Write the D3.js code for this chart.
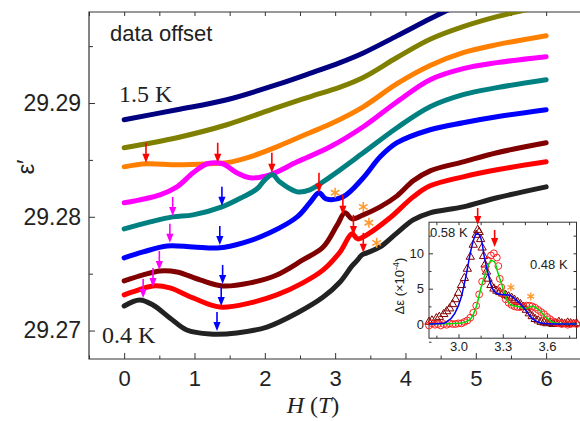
<!DOCTYPE html>
<html>
<head>
<meta charset="utf-8">
<script src="https://cdn.jsdelivr.net/npm/d3@7"></script>
<style>
body { margin: 0; background: #fff; }
text { font-family: Arial, "Liberation Sans", sans-serif; fill: #222; }
.serif { font-family: "Times New Roman", "Liberation Serif", serif; }
</style>
</head>
<body>
<svg id="chart" width="580" height="421"></svg>
<script>
// ---- traces, top (1.5 K) to bottom (0.4 K): field H (T) and eps' ----
var hNavy = [0, 0.75, 1.46, 2.17, 2.64, 3.07, 3.40, 3.88, 4.35, 4.63, 4.92, 5.20];
var eNavy = [29.28853, 29.28941, 29.29029, 29.29161, 29.29260, 29.29355, 29.29440, 29.29590, 29.29740, 29.29825, 29.29905, 29.2998];

var hOlive = [0, 0.75, 1.46, 2.17, 2.64, 3.07, 3.40, 3.88, 4.35, 4.82, 5.30, 5.73, 6.00];
var eOlive = [29.28607, 29.28695, 29.28809, 29.28959, 29.29055, 29.29140, 29.29225, 29.29400, 29.29560, 29.29671, 29.29759, 29.29821, 29.29860];

var hOrange = [0, 0.32, 0.75, 1.22, 1.46, 1.79, 2.17, 2.64, 2.93, 3.40, 3.88, 4.35, 4.82, 5.30, 6.00];
var eOrange = [29.28439, 29.28466, 29.28457, 29.28466, 29.28475, 29.28527, 29.28615, 29.28739, 29.28815, 29.28967, 29.29170, 29.29330, 29.29443, 29.29513, 29.29592];

var hMagenta = [0, 0.51, 0.75, 0.98, 1.18, 1.40, 1.60, 1.79, 2.07, 2.46, 2.93, 3.40, 3.88, 4.35, 4.82, 5.30, 6.00];
var eMagenta = [29.28123, 29.28193, 29.28263, 29.28387, 29.28466, 29.28466, 29.28387, 29.28343, 29.28369, 29.28483, 29.28615, 29.28791, 29.29011, 29.29205, 29.29302, 29.29355, 29.29407];

var hTeal = [0, 0.37, 0.69, 0.98, 1.39, 1.69, 1.89, 2.00, 2.11, 2.21, 2.46, 2.64, 2.93, 3.40, 3.88, 4.35, 4.82, 5.30, 6.00];
var eTeal = [29.27894, 29.27955, 29.27999, 29.28017, 29.28087, 29.28175, 29.28246, 29.28325, 29.28369, 29.28307, 29.28219, 29.28237, 29.28351, 29.28563, 29.28783, 29.28967, 29.29073, 29.29135, 29.29205];

var hBlue = [0, 0.27, 0.61, 0.98, 1.36, 1.69, 2.07, 2.46, 2.64, 2.77, 2.87, 3.11, 3.40, 3.64, 3.88, 4.35, 4.82, 5.30, 6.00];
var eBlue = [29.27639, 29.27691, 29.27744, 29.27735, 29.27727, 29.27771, 29.27859, 29.27999, 29.28123, 29.28211, 29.28158, 29.28175, 29.28343, 29.28527, 29.28651, 29.28765, 29.28827, 29.28879, 29.28941];

var hDarkRed = [0, 0.27, 0.51, 0.75, 1.08, 1.40, 1.79, 2.17, 2.54, 2.83, 3.03, 3.14, 3.24, 3.40, 3.64, 3.88, 4.11, 4.35, 4.82, 5.30, 6.00];
var eDarkRed = [29.27436, 29.27489, 29.27524, 29.27515, 29.27445, 29.27392, 29.27419, 29.27489, 29.27621, 29.27735, 29.27929, 29.28035, 29.27982, 29.28017, 29.28087, 29.28184, 29.28316, 29.28404, 29.28483, 29.28563, 29.28651];

var hRed = [0, 0.12, 0.41, 0.65, 0.98, 1.36, 1.79, 2.17, 2.54, 2.83, 3.07, 3.24, 3.32, 3.45, 3.78, 4.11, 4.35, 4.82, 5.30, 6.00];
var eRed = [29.27313, 29.27339, 29.27392, 29.27375, 29.27287, 29.27207, 29.27243, 29.27313, 29.27419, 29.27533, 29.27691, 29.27850, 29.27806, 29.27841, 29.27991, 29.28175, 29.28272, 29.28351, 29.28413, 29.28483];

var hBlack = [0, 0.22, 0.41, 0.65, 0.89, 1.22, 1.60, 2.03, 2.46, 2.83, 3.07, 3.24, 3.32, 3.38, 3.45, 3.64, 3.88, 4.11, 4.35, 4.82, 5.30, 6.00];
var eBlack = [29.27216, 29.27269, 29.27225, 29.27111, 29.27005, 29.26970, 29.26979, 29.27031, 29.27155, 29.27295, 29.27427, 29.27568, 29.27621, 29.27665, 29.27683, 29.27735, 29.27859, 29.27973, 29.28035, 29.28087, 29.28167, 29.28263];

// arrow tips [H, eps'] and asterisks
var redArrows = [[0.31, 29.28475], [1.33, 29.28475], [2.10, 29.28387], [2.77, 29.28211], [3.11, 29.28017], [3.26, 29.27841], [3.40, 29.27683]];
var magentaArrows = [[0.69, 29.28008], [0.65, 29.27771], [0.50, 29.27533], [0.41, 29.27383], [0.27, 29.27287]];
var blueArrows = [[1.39, 29.28096], [1.36, 29.27753], [1.40, 29.27410], [1.38, 29.27216], [1.32, 29.26996]];
var stars = [[3.00, 29.28211], [3.40, 29.28087], [3.48, 29.27947], [3.59, 29.27771]];

var xTicks = [0, 1, 2, 3, 4, 5, 6];
var yTicks = [29.27, 29.28, 29.29];

// ---- inset: delta eps (x1e-4) vs H ----
var h58 = [2.80, 2.82, 2.85, 2.87, 2.90, 2.92, 2.94, 2.96, 2.98, 3.00, 3.02, 3.04, 3.06, 3.08, 3.10, 3.12, 3.13, 3.14, 3.15, 3.16, 3.17, 3.18, 3.19, 3.20, 3.22, 3.24, 3.26, 3.28, 3.30, 3.32, 3.34, 3.36, 3.38, 3.40, 3.42, 3.44, 3.46, 3.48, 3.50, 3.52, 3.54, 3.56, 3.58, 3.60, 3.62, 3.64, 3.66, 3.68, 3.70, 3.72, 3.74, 3.76, 3.78, 3.80];
var d58 = [0.3, 0.5, 0.8, 1.0, 1.4, 1.8, 2.2, 2.8, 3.5, 4.4, 5.5, 6.5, 7.8, 9.5, 11.2, 12.6, 13.3, 13.0, 12.0, 10.8, 9.6, 8.4, 7.4, 6.4, 5.5, 5.0, 4.7, 4.5, 4.3, 4.1, 3.9, 3.7, 3.4, 3.1, 2.8, 2.4, 2.0, 1.5, 1.1, 0.7, 0.5, 0.3, 0.2, 0.1, 0.2, 0.0, 0.1, 0.3, 0.1, 0.0, 0.2, 0.1, 0.0, 0.1];

var h48 = [2.80, 2.82, 2.84, 2.86, 2.88, 2.90, 2.92, 2.94, 2.96, 2.98, 3.00, 3.02, 3.04, 3.06, 3.08, 3.10, 3.12, 3.14, 3.16, 3.18, 3.20, 3.22, 3.24, 3.26, 3.27, 3.28, 3.29, 3.30, 3.32, 3.34, 3.36, 3.38, 3.40, 3.42, 3.44, 3.46, 3.48, 3.50, 3.52, 3.54, 3.56, 3.58, 3.60, 3.62, 3.64, 3.66, 3.68, 3.70, 3.72, 3.74, 3.76, 3.78, 3.80];
var d48 = [-0.2, 0.1, -0.1, 0.0, -0.2, 0.0, -0.1, 0.1, 0.0, 0.0, 0.1, 0.1, 0.3, 0.5, 0.9, 1.6, 2.6, 4.2, 6.0, 7.8, 9.0, 9.7, 10.0, 9.4, 8.2, 6.4, 5.2, 4.3, 3.5, 3.0, 2.7, 2.5, 2.4, 2.4, 2.5, 2.6, 2.6, 2.5, 2.3, 2.0, 1.7, 1.4, 1.0, 0.7, 0.4, 0.2, 0.1, 0.0, 0.1, -0.1, 0.0, 0.1, 0.0];

var hFit58 = [2.80, 2.90, 2.92, 2.975, 3.02, 3.05, 3.085, 3.115, 3.13, 3.155, 3.175, 3.20, 3.23, 3.275, 3.345, 3.38, 3.435, 3.50, 3.57, 3.65, 3.80];
var dFit58 = [0.0, 0.1, 0.3, 1.5, 3.9, 6.7, 10.5, 12.6, 12.8, 11.9, 9.5, 7.2, 5.0, 4.2, 4.1, 3.6, 2.5, 0.8, 0.1, 0.0, 0.0];

var hFit48 = [2.80, 3.005, 3.075, 3.12, 3.155, 3.19, 3.22, 3.245, 3.265, 3.29, 3.32, 3.355, 3.40, 3.455, 3.50, 3.545, 3.60, 3.66, 3.80];
var dFit48 = [0.0, 0.1, 0.6, 2.4, 5.3, 7.6, 9.0, 8.8, 7.4, 5.8, 3.9, 2.7, 2.5, 2.2, 2.5, 2.0, 0.8, 0.1, 0.0];

var insetArrows = [[3.13, 14.0], [3.245, 10.9]];
var insetStars = [[3.355, 5.2], [3.49, 3.9]];
var insetXTicks = [3.0, 3.3, 3.6];
var insetYTicks = [0, 5, 10];

var svg = d3.select("#chart");
var axisColor = "#333";

var x = d3.scaleLinear().domain([-0.5, 6.5]).range([89, 581.3]);
var y = d3.scaleLinear().domain([29.2675, 29.298]).range([359, 12]);

svg.append("defs").append("clipPath").attr("id", "plotclip")
    .append("rect").attr("x", 89).attr("y", 12).attr("width", 492).attr("height", 347);

function styleAxis(g) {
    g.select(".domain").remove();
    g.selectAll(".tick line").attr("stroke", axisColor);
    g.selectAll(".tick text").attr("fill", "#222");
}

// major and minor ticks, all pointing inward
svg.append("g").attr("transform", "translate(0,359)")
    .call(d3.axisBottom(x).tickValues(xTicks).tickSizeInner(-6).tickSizeOuter(0).tickPadding(11).tickFormat(d3.format("d")))
    .call(styleAxis).selectAll("text").style("font-size", "22px");
svg.append("g").attr("transform", "translate(0,359)")
    .call(d3.axisBottom(x).tickValues([-0.5, 0.5, 1.5, 2.5, 3.5, 4.5, 5.5, 6.5]).tickSizeInner(-3.5).tickSizeOuter(0).tickFormat(""))
    .call(styleAxis);
svg.append("g").attr("transform", "translate(0,12)")
    .call(d3.axisTop(x).tickValues(d3.range(-0.5, 6.51, 0.5)).tickSizeInner(-4).tickSizeOuter(0).tickFormat(""))
    .call(styleAxis);
svg.append("g").attr("transform", "translate(89,0)")
    .call(d3.axisLeft(y).tickValues(yTicks).tickSizeInner(-6).tickSizeOuter(0).tickPadding(8).tickFormat(d3.format(".2f")))
    .call(styleAxis).selectAll("text").style("font-size", "23px");
svg.append("g").attr("transform", "translate(89,0)")
    .call(d3.axisLeft(y).tickValues([29.275, 29.285, 29.295]).tickSizeInner(-4).tickSizeOuter(0).tickFormat(""))
    .call(styleAxis);

// frame
svg.append("path")
    .attr("d", "M581.3,12H89V359H581.3")
    .attr("fill", "none").attr("stroke", axisColor).attr("stroke-width", 1.2);

// traces
var traces = [
    [hNavy, eNavy, "#000080"],
    [hOlive, eOlive, "#808000"],
    [hOrange, eOrange, "#FF8000"],
    [hMagenta, eMagenta, "#FF00FF"],
    [hTeal, eTeal, "#008080"],
    [hBlue, eBlue, "#0000FF"],
    [hDarkRed, eDarkRed, "#800000"],
    [hRed, eRed, "#FF0000"],
    [hBlack, eBlack, "#222222"]
];
var line = d3.line()
    .x(function (d) { return x(d[0]); })
    .y(function (d) { return y(d[1]); })
    .curve(d3.curveCatmullRom.alpha(0.5));
var plot = svg.append("g").attr("clip-path", "url(#plotclip)");
traces.forEach(function (t) {
    var pts = t[0].map(function (h, i) { return [h, t[1][i]]; });
    plot.append("path").datum(pts)
        .attr("fill", "none")
        .attr("stroke", t[2])
        .attr("stroke-width", 5)
        .attr("stroke-linecap", "round")
        .attr("stroke-linejoin", "round")
        .attr("d", line);
});

function arrow(px, py, len, color) {
    svg.append("line")
        .attr("x1", px).attr("x2", px)
        .attr("y1", py - len).attr("y2", py - 7)
        .attr("stroke", color).attr("stroke-width", 1.6);
    svg.append("path")
        .attr("d", "M" + (px - 3.6) + "," + (py - 9) + "L" + (px + 3.6) + "," + (py - 9) + "L" + px + "," + py + "Z")
        .attr("fill", color);
}
redArrows.forEach(function (a) { arrow(x(a[0]), y(a[1]), 20, "#FF0000"); });
magentaArrows.forEach(function (a) { arrow(x(a[0]), y(a[1]), 19, "#FF00FF"); });
blueArrows.forEach(function (a) { arrow(x(a[0]), y(a[1]), 19, "#0000FF"); });

var star = d3.symbol().type(d3.symbolAsterisk).size(70);
stars.forEach(function (s) {
    svg.append("path").attr("d", star)
        .attr("transform", "translate(" + x(s[0]) + "," + y(s[1]) + ")")
        .attr("fill", "none").attr("stroke", "#FF9A33").attr("stroke-width", 1.6);
});

// labels
svg.append("text").attr("x", 110).attr("y", 41).style("font-size", "22px").text("data offset");
svg.append("text").attr("class", "serif").attr("x", 119).attr("y", 102).style("font-size", "24px").text("1.5 K");
svg.append("text").attr("class", "serif").attr("x", 102).attr("y", 343).style("font-size", "24px").text("0.4 K");
svg.append("text")
    .attr("transform", "translate(34,167) rotate(-90)")
    .attr("text-anchor", "middle").style("font-size", "24px").text("\u03b5\u2032");
var xl = svg.append("text").attr("class", "serif")
    .attr("x", 313).attr("y", 413).attr("text-anchor", "middle").style("font-size", "24px");
xl.append("tspan").style("font-style", "italic").text("H");
xl.append("tspan").text(" (");
xl.append("tspan").style("font-style", "italic").text("T");
xl.append("tspan").text(")");

// ---- inset ----
var xi = d3.scaleLinear().domain([2.8, 3.8]).range([429, 576.5]);
var yi = d3.scaleLinear().domain([-2, 14.4]).range([338.2, 222.2]);
var inset = svg.append("g");
inset.append("rect").attr("x", 429).attr("y", 222.2).attr("width", 147.5).attr("height", 116)
    .attr("fill", "#fff").attr("stroke", axisColor).attr("stroke-width", 1);

inset.append("g").attr("transform", "translate(0,338.2)")
    .call(d3.axisBottom(xi).tickValues(insetXTicks).tickSizeInner(-4).tickSizeOuter(0).tickPadding(4).tickFormat(d3.format(".1f")))
    .call(styleAxis).selectAll("text").style("font-size", "13px");
inset.append("g").attr("transform", "translate(0,338.2)")
    .call(d3.axisBottom(xi).tickValues([2.85, 3.15, 3.45, 3.75]).tickSizeInner(-2.5).tickSizeOuter(0).tickFormat(""))
    .call(styleAxis);
inset.append("g").attr("transform", "translate(0,222.2)")
    .call(d3.axisTop(xi).tickValues([2.85, 3.0, 3.15, 3.3, 3.45, 3.6, 3.75]).tickSizeInner(-3).tickSizeOuter(0).tickFormat(""))
    .call(styleAxis);
inset.append("g").attr("transform", "translate(429,0)")
    .call(d3.axisLeft(yi).tickValues(insetYTicks).tickSizeInner(-4).tickSizeOuter(0).tickPadding(5).tickFormat(d3.format("d")))
    .call(styleAxis).selectAll("text").style("font-size", "13px");
inset.append("g").attr("transform", "translate(429,0)")
    .call(d3.axisLeft(yi).tickValues([-2.5, 2.5, 7.5, 12.5]).tickSizeInner(-2.5).tickSizeOuter(0).tickFormat(""))
    .call(styleAxis);
inset.append("g").attr("transform", "translate(576.5,0)")
    .call(d3.axisRight(yi).tickValues([0, 2.5, 5, 7.5, 10, 12.5]).tickSizeInner(-3).tickSizeOuter(0).tickFormat(""))
    .call(styleAxis);

var tri = d3.symbol().type(d3.symbolTriangle).size(30);
h58.forEach(function (h, i) {
    inset.append("path").attr("d", tri)
        .attr("transform", "translate(" + xi(h) + "," + yi(d58[i]) + ")")
        .attr("fill", "none").attr("stroke", "#800000").attr("stroke-width", 1);
});
h48.forEach(function (h, i) {
    inset.append("circle").attr("cx", xi(h)).attr("cy", yi(d48[i])).attr("r", 3.4)
        .attr("fill", "none").attr("stroke", "#FF2020").attr("stroke-width", 1);
});
var iline = d3.line()
    .x(function (d) { return xi(d[0]); })
    .y(function (d) { return yi(d[1]); })
    .curve(d3.curveMonotoneX);
inset.append("path").datum(hFit48.map(function (h, i) { return [h, dFit48[i]]; }))
    .attr("fill", "none").attr("stroke", "#00DD00").attr("stroke-width", 1.5).attr("d", iline);
inset.append("path").datum(hFit58.map(function (h, i) { return [h, dFit58[i]]; }))
    .attr("fill", "none").attr("stroke", "#0000FF").attr("stroke-width", 1.5).attr("d", iline);

insetArrows.forEach(function (a) { arrow(xi(a[0]), yi(a[1]), 17, "#FF0000"); });
insetStars.forEach(function (s) {
    svg.append("path").attr("d", d3.symbol().type(d3.symbolAsterisk).size(45))
        .attr("transform", "translate(" + xi(s[0]) + "," + yi(s[1]) + ")")
        .attr("fill", "none").attr("stroke", "#FF9A33").attr("stroke-width", 1.4);
});

inset.append("text").attr("x", 430).attr("y", 237).style("font-size", "13px").text("0.58 K");
inset.append("text").attr("x", 530).attr("y", 269).style("font-size", "13px").text("0.48 K");
var il = svg.append("text")
    .attr("transform", "translate(404,286) rotate(-90)")
    .attr("text-anchor", "middle").style("font-size", "13px");
il.append("tspan").text("\u0394\u03b5 (\u00d710");
il.append("tspan").attr("dy", -5).style("font-size", "9px").text("-4");
il.append("tspan").attr("dy", 5).text(")");
</script>
</body>
</html>
